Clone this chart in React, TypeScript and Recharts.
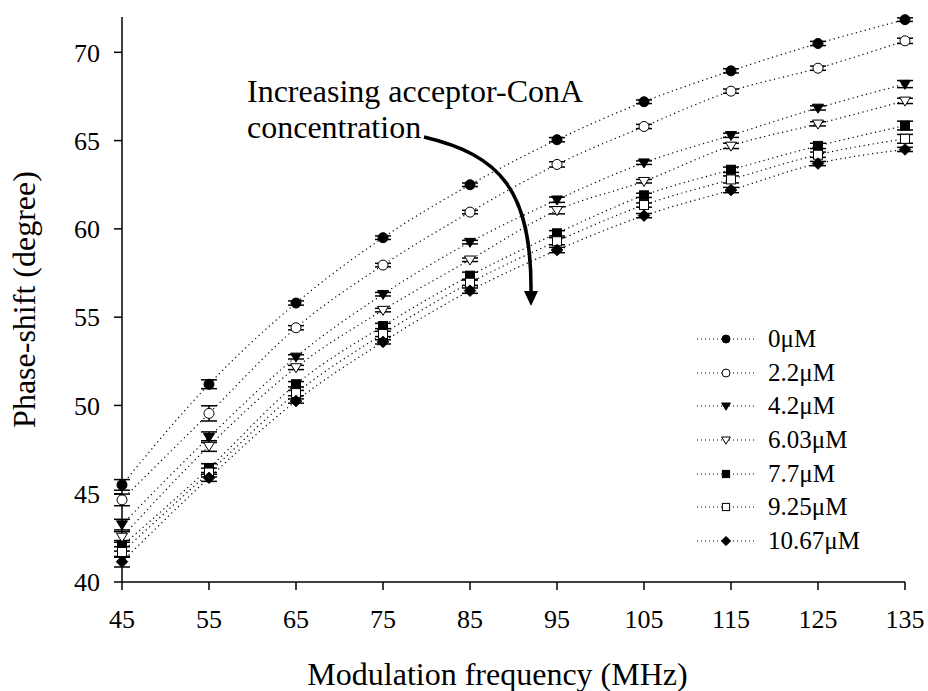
import { LineChart, Line, XAxis, YAxis, ErrorBar, Legend } from "recharts";

const FONT = "'Liberation Serif', 'Times New Roman', serif";

const frequencies = [45, 55, 65, 75, 85, 95, 105, 115, 125, 135];
const freqTicks = [45, 55, 65, 75, 85, 95, 105, 115, 125, 135];
const phaseTicks = [40, 45, 50, 55, 60, 65, 70];

// phase-shift (degree) per acceptor-ConA concentration
const phase0 = [45.5, 51.2, 55.8, 59.5, 62.5, 65.05, 67.2, 68.95, 70.5, 71.85];
const phase22 = [44.65, 49.55, 54.4, 57.95, 60.95, 63.65, 65.8, 67.8, 69.1, 70.65];
const phase42 = [43.25, 48.2, 52.75, 56.3, 59.25, 61.65, 63.75, 65.3, 66.85, 68.2];
const phase603 = [42.55, 47.7, 52.15, 55.4, 58.25, 61.05, 62.7, 64.7, 65.95, 67.25];
const phase77 = [42.05, 46.45, 51.2, 54.5, 57.35, 59.75, 61.9, 63.35, 64.7, 65.85];
const phase925 = [41.7, 46.2, 50.7, 54.05, 56.95, 59.3, 61.35, 62.8, 64.2, 65.1];
const phase1067 = [41.15, 45.9, 50.25, 53.6, 56.5, 58.8, 60.75, 62.2, 63.7, 64.5];

// error bars (+/- degree)
const err0 = [0.3, 0.25, 0.12, 0.1, 0.1, 0.12, 0.1, 0.12, 0.12, 0.1];
const err22 = [0.33, 0.43, 0.12, 0.1, 0.1, 0.15, 0.12, 0.12, 0.12, 0.15];
const err42 = [0.3, 0.3, 0.12, 0.1, 0.1, 0.15, 0.1, 0.12, 0.12, 0.2];
const err603 = [0.3, 0.3, 0.12, 0.1, 0.1, 0.2, 0.1, 0.15, 0.12, 0.15];
const err77 = [0.3, 0.25, 0.15, 0.15, 0.2, 0.15, 0.12, 0.15, 0.15, 0.25];
const err925 = [0.3, 0.25, 0.15, 0.15, 0.15, 0.2, 0.12, 0.2, 0.15, 0.25];
const err1067 = [0.3, 0.2, 0.12, 0.12, 0.15, 0.15, 0.12, 0.15, 0.12, 0.12];

const seriesNames = ["0μM", "2.2μM", "4.2μM", "6.03μM", "7.7μM", "9.25μM", "10.67μM"];
const seriesKinds = ["circle", "circleOpen", "tri", "triOpen", "square", "squareOpen", "diamond"];
const seriesValues = [phase0, phase22, phase42, phase603, phase77, phase925, phase1067];
const seriesErrors = [err0, err22, err42, err603, err77, err925, err1067];

const data = frequencies.map((f, i) => {
  const row: any = { freq: f };
  seriesValues.forEach((vals, s) => {
    row["s" + s] = vals[i];
    row["e" + s] = seriesErrors[s][i];
  });
  return row;
});

function Marker({ kind, cx, cy, size }: any) {
  const fill = kind.endsWith("Open") ? "#fff" : "#000";
  const r = size / 2;
  const common = { fill, stroke: "#000", strokeWidth: 1 };
  if (kind.startsWith("circle")) {
    return <circle cx={cx} cy={cy} r={r} {...common} />;
  }
  if (kind.startsWith("tri")) {
    const pts = `${cx - r * 1.1},${cy - r * 0.75} ${cx + r * 1.1},${cy - r * 0.75} ${cx},${cy + r * 1.05}`;
    return <polygon points={pts} {...common} />;
  }
  if (kind.startsWith("square")) {
    return <rect x={cx - r * 0.9} y={cy - r * 0.9} width={r * 1.8} height={r * 1.8} {...common} />;
  }
  const d = r * 1.15;
  return <polygon points={`${cx},${cy - d} ${cx + d},${cy} ${cx},${cy + d} ${cx - d},${cy}`} {...common} />;
}

function LegendBox() {
  return (
    <div style={{ fontFamily: FONT, fontSize: 25, color: "#000" }}>
      {seriesNames.map((name, s) => (
        <div key={name} style={{ display: "flex", alignItems: "center", height: 33.7 }}>
          <svg width={60} height={20} style={{ marginRight: 11 }}>
            <line x1={0} y1={10} x2={58} y2={10} stroke="#000" strokeWidth={1.2} strokeDasharray="1 3" />
            <Marker kind={seriesKinds[s]} cx={29} cy={10} size={8} />
          </svg>
          <span>{name}</span>
        </div>
      ))}
    </div>
  );
}

export default function App() {
  return (
    <div style={{ position: "absolute", left: 0, top: 0, width: 928, height: 691, background: "#fff" }}>
      <LineChart
        width={928}
        height={691}
        data={data}
        margin={{ top: 17, right: 23, left: 0, bottom: 0 }}
      >
        <XAxis
          dataKey="freq"
          type="number"
          domain={[45, 135]}
          ticks={freqTicks}
          height={109}
          tickSize={8}
          tickMargin={20}
          axisLine={{ stroke: "#000", strokeWidth: 1.5 }}
          tickLine={{ stroke: "#000", strokeWidth: 1.5 }}
          tick={{ fill: "#000", fontSize: 26, fontFamily: FONT }}
          label={{
            value: "Modulation frequency (MHz)",
            position: "insideBottom",
            offset: 6,
            dx: -16,
            style: { fill: "#000", fontSize: 32, fontFamily: FONT },
          }}
        />
        <YAxis
          type="number"
          domain={[40, 72]}
          ticks={phaseTicks}
          width={122}
          tickSize={8}
          tickMargin={14}
          axisLine={{ stroke: "#000", strokeWidth: 1.5 }}
          tickLine={{ stroke: "#000", strokeWidth: 1.5 }}
          tick={{ fill: "#000", fontSize: 26, fontFamily: FONT }}
          label={{
            value: "Phase-shift (degree)",
            angle: -90,
            position: "insideLeft",
            offset: 24,
            style: { fill: "#000", fontSize: 32, fontFamily: FONT, textAnchor: "middle" },
          }}
        />
        <Legend
          layout="vertical"
          align="center"
          verticalAlign="middle"
          content={() => <LegendBox />}
          wrapperStyle={{ left: 697, top: 322, width: 200 }}
        />
        {seriesNames.map((name, s) => (
          <Line
            key={name}
            name={name}
            type="monotone"
            dataKey={"s" + s}
            stroke="#000"
            strokeWidth={1.2}
            strokeDasharray="1.2 3.4"
            isAnimationActive={false}
            activeDot={false}
            dot={(p: any) => (
              <g key={`dot-${s}-${p.index}`}>
                <Marker kind={seriesKinds[s]} cx={p.cx} cy={p.cy} size={10} />
              </g>
            )}
          >
            <ErrorBar
              dataKey={"e" + s}
              direction="y"
              width={8}
              stroke="#000"
              strokeWidth={1.5}
              isAnimationActive={false}
            />
          </Line>
        ))}
      </LineChart>
      <svg
        width={928}
        height={691}
        style={{ position: "absolute", left: 0, top: 0, pointerEvents: "none" }}
      >
        <text x={247} y={102} fontFamily={FONT} fontSize={32} fill="#000">
          Increasing acceptor-ConA
        </text>
        <text x={247} y={138} fontFamily={FONT} fontSize={32} fill="#000">
          concentration
        </text>
        <path d="M 424 137 C 500 155, 532 190, 531 293" fill="none" stroke="#000" strokeWidth={3.5} />
        <polygon points="524,291 538,291 531,306" fill="#000" />
      </svg>
    </div>
  );
}
